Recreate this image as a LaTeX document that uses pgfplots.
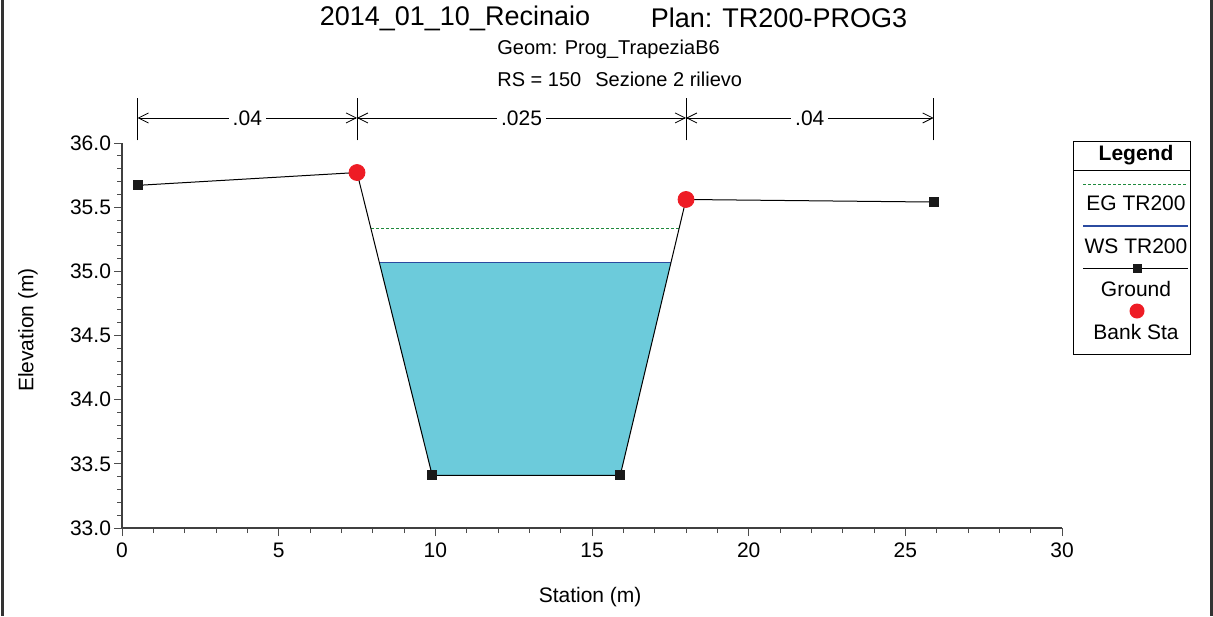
\documentclass[border=0pt]{standalone}
\usepackage{fontspec}
\setmainfont{Liberation Sans}
\usepackage{pgfplots}
\pgfplotsset{compat=1.18}
\usetikzlibrary{arrows.meta}
\definecolor{water}{HTML}{6CCBDB}
\definecolor{wsblue}{HTML}{2B4BA0}
\definecolor{eggreen}{HTML}{1E8A3C}
\definecolor{bankred}{HTML}{EE1C25}
\definecolor{frame}{HTML}{333333}
\begin{document}
\begin{tikzpicture}
\begin{scope}[x=0.5pt,y=-0.5pt]
\useasboundingbox (0,0) rectangle (1213,616);
\draw[line width=1.5pt, frame] (2,0) -- (2,616);
\draw[line width=1.5pt, frame] (1211,0) -- (1211,616);
% titles
\node[font=\fontsize{13.5}{16}\selectfont] at (455,18) {2014\_01\_10\_Recinaio};
\node[font=\fontsize{13.5}{16}\selectfont] at (779,18) {Plan: TR200-PROG3};
\node[font=\fontsize{10}{12}\selectfont, anchor=west, inner sep=0pt] at (497,49) {Geom: Prog\_TrapeziaB6};
\node[font=\fontsize{10}{12}\selectfont, anchor=west, inner sep=0pt] at (497,79) {RS = 150\hspace{7pt}Sezione 2 rilievo};
% legend
\draw[black, line width=0.5pt] (1073,141) rectangle (1190,354);
\draw[black, line width=0.5pt] (1073,170) -- (1190,170);
\node[font=\fontsize{10.5}{12}\selectfont\bfseries] at (1136,155) {Legend};
\draw[eggreen, dash pattern=on 1.5pt off 1pt, line width=0.5pt] (1083,184) -- (1188,184);
\node[font=\fontsize{10.5}{12}\selectfont] at (1136,203) {EG TR200};
\draw[wsblue, line width=0.6pt] (1083,226) -- (1188,226);
\node[font=\fontsize{10.5}{12}\selectfont] at (1136,246) {WS TR200};
\draw[black, line width=0.5pt] (1083,268) -- (1188,268);
\fill[black!90] (1132.5,263.5) rectangle (1141.5,272.5);
\node[font=\fontsize{10.5}{12}\selectfont] at (1136,289) {Ground};
\fill[bankred] (1137,311) circle (7.5);
\node[font=\fontsize{10.5}{12}\selectfont] at (1136,332) {Bank Sta};
\end{scope}
\begin{axis}[
  at={(61pt,-264pt)}, anchor=south west,
  scale only axis, width=470pt, height=192.5pt,
  xmin=0, xmax=30, ymin=33, ymax=36,
  axis x line*=bottom, axis y line*=left,
  axis line style={black!75, line width=0.6pt},
  xtick={0,5,...,30}, ytick={33,33.5,...,36},
  minor x tick num=4, minor y tick num=4,
  tick align=outside, major tick length=4pt, minor tick length=2.5pt,
  tick style={black!70, line width=0.5pt},
  yticklabel style={xshift=2pt, /pgf/number format/.cd,fixed,fixed zerofill,precision=1},
  /pgf/number format/assume math mode=true,
  ticklabel style={font=\fontsize{10.5}{12}\selectfont},
  clip=false,
  xlabel={Station (m)}, ylabel={Elevation (m)},
  label style={font=\fontsize{10.5}{12}\selectfont},
  xlabel style={at={(axis description cs:0.498,-0.179)}, anchor=center},
  ylabel style={at={(axis description cs:-0.1,0.514)}, anchor=center},
]
\addplot[fill=water, draw=none] coordinates {(8.21,35.07) (9.9,33.41) (15.9,33.41) (17.52,35.07)};
\addplot[wsblue, line width=0.7pt] coordinates {(8.21,35.07) (17.52,35.07)};
\addplot[eggreen, dash pattern=on 1.5pt off 1pt, line width=0.5pt] coordinates {(7.95,35.33) (17.78,35.33)};
\addplot[black, line width=0.5pt, mark=square*, mark size=2.25pt, mark options={fill=black!90, draw=black!90}] coordinates {(0.5,35.67) (7.5,35.77) (9.9,33.41) (15.9,33.41) (18.0,35.56) (25.9,35.54)};
\addplot[only marks, mark=*, mark size=4pt, bankred] coordinates {(7.5,35.77) (18.0,35.56)};
% Manning's n
\draw[black, line width=0.5pt] (axis cs:0.5,36.02) -- (axis cs:0.5,36.35);
\draw[black, line width=0.5pt] (axis cs:7.5,36.02) -- (axis cs:7.5,36.35);
\draw[black, line width=0.5pt] (axis cs:18.0,36.02) -- (axis cs:18.0,36.35);
\draw[black, line width=0.5pt] (axis cs:25.9,36.02) -- (axis cs:25.9,36.35);
\draw[black, line width=0.4pt, {Straight Barb[length=5pt,width=5pt]}-{Straight Barb[length=5pt,width=5pt]}] (axis cs:0.5,36.195) -- (axis cs:7.5,36.195);
\draw[black, line width=0.4pt, {Straight Barb[length=5pt,width=5pt]}-{Straight Barb[length=5pt,width=5pt]}] (axis cs:7.5,36.195) -- (axis cs:18.0,36.195);
\draw[black, line width=0.4pt, {Straight Barb[length=5pt,width=5pt]}-{Straight Barb[length=5pt,width=5pt]}] (axis cs:18.0,36.195) -- (axis cs:25.9,36.195);
\node[fill=white, inner sep=2pt, font=\fontsize{10.5}{12}\selectfont] at (axis cs:4.0,36.195) {.04};
\node[fill=white, inner sep=2pt, font=\fontsize{10.5}{12}\selectfont] at (axis cs:12.75,36.195) {.025};
\node[fill=white, inner sep=2pt, font=\fontsize{10.5}{12}\selectfont] at (axis cs:21.95,36.195) {.04};
\end{axis}
\end{tikzpicture}
\end{document}
